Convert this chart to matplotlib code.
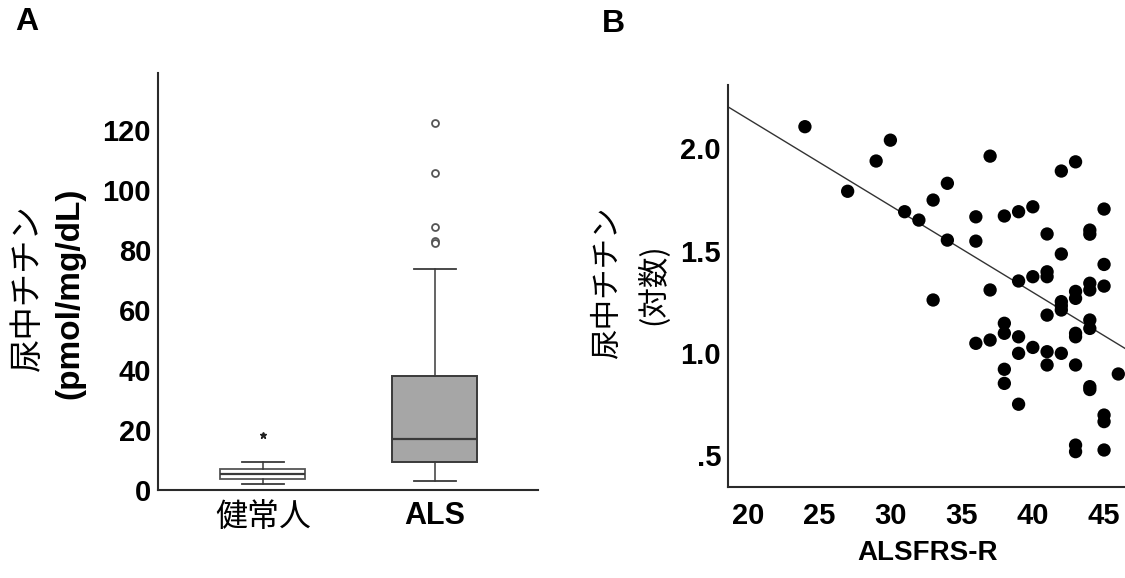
import matplotlib
matplotlib.use("Agg")
import matplotlib.pyplot as plt
from matplotlib.font_manager import FontProperties

# ---------------- data ----------------
groups = ["健常人", "ALS"]
healthy_q1, healthy_med, healthy_q3 = 3.6, 5.2, 6.9
healthy_lo, healthy_hi = 2.0, 9.4
healthy_extreme = [18.3]
als_q1, als_med, als_q3 = 9.4, 17.0, 38.1
als_lo, als_hi = 2.9, 73.7
als_outliers = [122.2, 105.6, 87.8, 83.0, 82.4]
a_yticks = [0, 20, 40, 60, 80, 100, 120]

alsfrs = [24, 30, 29, 27, 37, 43, 42, 34, 33, 31, 32, 36, 38, 39, 40, 45,
          34, 36, 41, 44, 44, 42, 45, 41, 41, 40, 39, 37, 33, 44, 44, 45,
          43, 43, 42, 42, 42, 41, 44, 44, 43, 43, 38, 38, 39, 36, 37, 40,
          39, 41, 42, 41, 43, 38, 38, 46, 44, 44, 39, 45, 45, 43, 43, 45]
titin_log = [2.106, 2.04, 1.938, 1.79, 1.962, 1.934, 1.889, 1.829, 1.747, 1.69,
             1.649, 1.665, 1.669, 1.69, 1.714, 1.703, 1.551, 1.546, 1.581, 1.60,
             1.58, 1.483, 1.432, 1.396, 1.372, 1.372, 1.351, 1.307, 1.258, 1.34,
             1.307, 1.326, 1.30, 1.266, 1.25, 1.23, 1.209, 1.184, 1.16, 1.119,
             1.095, 1.078, 1.144, 1.095, 1.078, 1.046, 1.062, 1.026, 0.997, 1.005,
             0.997, 0.94, 0.94, 0.919, 0.85, 0.896, 0.834, 0.82, 0.748, 0.695,
             0.663, 0.548, 0.516, 0.524]
fit_intercept = 2.992
fit_slope = -0.04241
b_xticks = [20, 25, 30, 35, 40, 45]
b_yticks = [0.5, 1.0, 1.5, 2.0]
b_yticklabels = [".5", "1.0", "1.5", "2.0"]

# ---------------- fonts ----------------
latin_b = FontProperties(family="Liberation Sans", weight="bold")
cjk = "Noto Sans CJK JP"

W, H = 1125, 578
fig = plt.figure(figsize=(W / 100, H / 100), dpi=100)
fig.patch.set_facecolor("white")

def fx(px):
    return px / W

def fy(py):
    return 1 - py / H

edge = "#3a3a3a"
spine_c = "#2a2a2a"

# ---------------- panel A ----------------
axA = fig.add_axes([fx(158), fy(490), fx(538) - fx(158), fy(73) - fy(490)])
stats_h = [dict(q1=healthy_q1, med=healthy_med, q3=healthy_q3,
                whislo=healthy_lo, whishi=healthy_hi, fliers=healthy_extreme)]
stats_a = [dict(q1=als_q1, med=als_med, q3=als_q3,
                whislo=als_lo, whishi=als_hi, fliers=als_outliers)]
common = dict(widths=0.494, capwidths=[0.245], patch_artist=True,
              whiskerprops=dict(color=edge, lw=1.1),
              capprops=dict(color=edge, lw=1.3),
              medianprops=dict(color=edge, lw=1.6))
axA.bxp(stats_h, positions=[1],
        boxprops=dict(facecolor="white", edgecolor="#555", lw=1.3),
        flierprops=dict(marker="*", markersize=5, markerfacecolor="#222",
                        markeredgecolor="#222"),
        **common)
axA.bxp(stats_a, positions=[2],
        boxprops=dict(facecolor="#a6a6a6", edgecolor=edge, lw=1.4),
        flierprops=dict(marker="o", markersize=5, markerfacecolor="white",
                        markeredgecolor="#555", markeredgewidth=1.3),
        **common)
axA.set_xlim(0.39, 2.6)
axA.set_ylim(0, 139)
axA.set_yticks(a_yticks)
axA.set_yticklabels([str(v) for v in a_yticks], fontproperties=latin_b, fontsize=21)
axA.set_xticks([1, 2])
axA.set_xticklabels(groups)
labs = axA.get_xticklabels()
labs[0].set_fontfamily(cjk)
labs[0].set_fontsize(23)
labs[0].set_fontweight("normal")
labs[1].set_fontproperties(latin_b)
labs[1].set_fontsize(22)
axA.tick_params(axis="both", length=0, colors="black")
axA.tick_params(axis="y", pad=5)
axA.tick_params(axis="x", pad=8)
for s in ["top", "right"]:
    axA.spines[s].set_visible(False)
for s in ["left", "bottom"]:
    axA.spines[s].set_color(spine_c)
    axA.spines[s].set_linewidth(1.5)

fig.text(fx(27), fy(288), "尿中チチン", rotation=90, ha="center", va="center",
         family=cjk, fontsize=24)
fig.text(fx(70), fy(293), "(pmol/mg/dL)", rotation=90, ha="center", va="center",
         fontproperties=latin_b, fontsize=24)
fig.text(fx(26.5), fy(22.5), "A", ha="center", va="center",
         fontproperties=latin_b, fontsize=23)

# ---------------- panel B ----------------
axB = fig.add_axes([fx(728), fy(487), fx(1125) - fx(728), fy(85) - fy(487)])
axB.scatter(alsfrs, titin_log, s=92, color="black", edgecolors="none", zorder=3)
axB.axline((0, fit_intercept), slope=fit_slope, color="#333", lw=1.0, zorder=2)
axB.set_xlim(18.6, 46.47)
axB.set_ylim(0.343, 2.31)
axB.set_xticks(b_xticks)
axB.set_xticklabels([str(v) for v in b_xticks], fontproperties=latin_b, fontsize=21)
axB.set_yticks(b_yticks)
axB.set_yticklabels(b_yticklabels, fontproperties=latin_b, fontsize=21)
axB.tick_params(axis="both", length=0, colors="black")
axB.tick_params(axis="y", pad=5)
axB.tick_params(axis="x", pad=11)
for s in ["top", "right"]:
    axB.spines[s].set_visible(False)
for s in ["left", "bottom"]:
    axB.spines[s].set_color(spine_c)
    axB.spines[s].set_linewidth(1.5)

fig.text(fx(928), fy(553), "ALSFRS-R", ha="center", va="center",
         fontproperties=latin_b, fontsize=20)
fig.text(fx(608), fy(283), "尿中チチン", rotation=90, ha="center", va="center",
         family=cjk, fontsize=22)
fig.text(fx(652), fy(284), "(対数)", rotation=90, ha="center", va="center",
         family=cjk, fontsize=22)
fig.text(fx(613.5), fy(23.5), "B", ha="center", va="center",
         fontproperties=latin_b, fontsize=23)

fig.savefig("out.png", dpi=100, facecolor="white")
